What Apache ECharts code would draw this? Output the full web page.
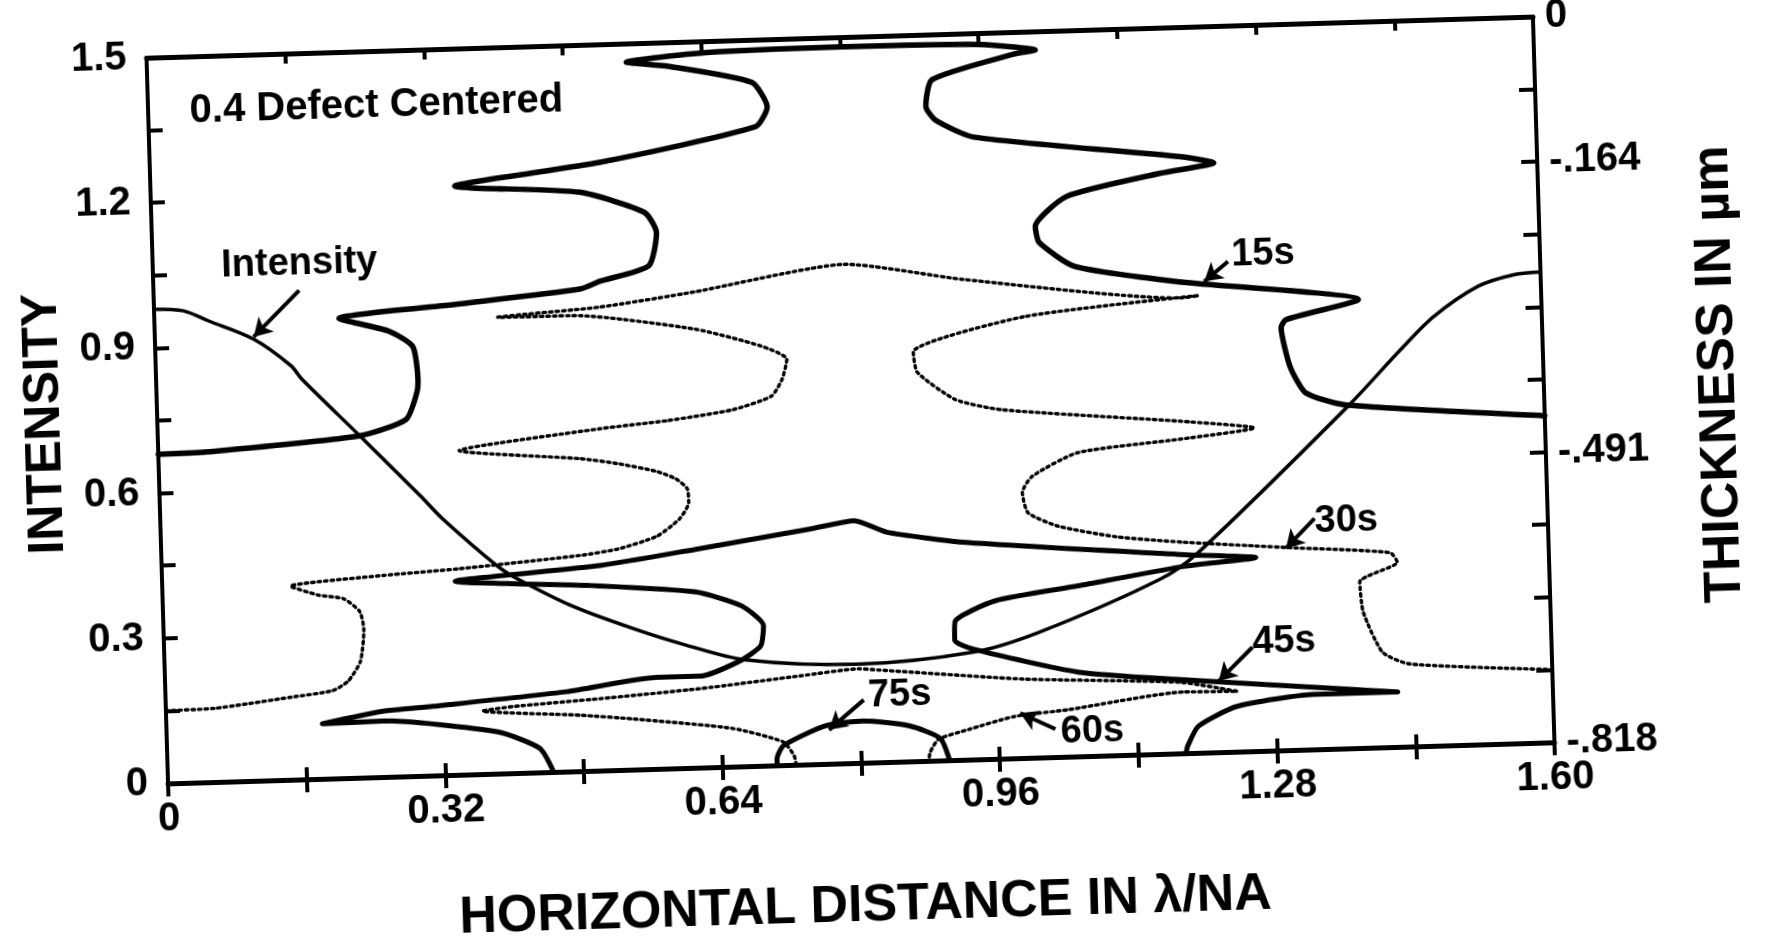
<!DOCTYPE html>
<html><head><meta charset="utf-8">
<script src="https://cdn.jsdelivr.net/npm/echarts@6/dist/echarts.min.js"></script>
<style>
html,body{margin:0;padding:0;background:#fff;overflow:hidden;width:1768px;height:938px;}
#wrap{position:absolute;left:0;top:0;width:1768px;height:938px;transform-origin:850.5px 400.5px;transform:rotate(-1.7deg);}
#chart{width:1768px;height:938px;}
</style></head><body>
<div id="wrap"><div id="chart"></div></div>
<script>
// ---------- DATA ----------
const xTickLabels = ['0','','0.32','','0.64','','0.96','','1.28','','1.60'];
const intensityTickLabels = ['0','','0.3','','0.6','','0.9','','1.2','','1.5'];
const thicknessTickLabels = ['-.818','','','','-.491','','','','-.164','','0'];

// Intensity profile: [horizontal distance (λ/NA), intensity]
const intensity = [[0,0.98],[0.034,0.975],[0.062,0.953],[0.114,0.912],[0.156,0.855],[0.168,0.827],[0.233,0.706],[0.301,0.578],[0.326,0.529],[0.387,0.429],[0.41,0.401],[0.474,0.34],[0.542,0.291],[0.60,0.255],[0.669,0.220],[0.797,0.204],[0.934,0.222],[1.01,0.259],[1.151,0.361],[1.196,0.414],[1.373,0.706],[1.436,0.82],[1.475,0.886],[1.527,0.946],[1.569,0.968],[1.6,0.972]];

// Resist profiles: [horizontal distance (λ/NA), thickness (µm)]
const profile15s = [[0,-0.447],[0.056,-0.446],[0.233,-0.433],[0.287,-0.416],[0.30,-0.387],[0.302,-0.371],[0.297,-0.334],[0.27,-0.316],[0.213,-0.300],[0.35,-0.288],[0.492,-0.275],[0.515,-0.267],[0.572,-0.251],[0.582,-0.214],[0.569,-0.191],[0.495,-0.166],[0.351,-0.155],[0.519,-0.133],[0.70,-0.098],[0.714,-0.076],[0.697,-0.048],[0.601,-0.027],[0.553,-0.021],[0.645,-0.013],[0.80,-0.011],[0.96,-0.013],[1.025,-0.021],[1.0,-0.025],[0.905,-0.051],[0.897,-0.081],[0.908,-0.097],[0.951,-0.117],[1.188,-0.146],[1.227,-0.154],[1.165,-0.164],[1.056,-0.187],[1.019,-0.220],[1.023,-0.238],[1.063,-0.266],[1.184,-0.287],[1.389,-0.313],[1.305,-0.333],[1.299,-0.342],[1.308,-0.386],[1.325,-0.416],[1.37,-0.431],[1.6,-0.450]];

const profile30s = [[0,-0.736],[0.056,-0.735],[0.145,-0.725],[0.193,-0.719],[0.211,-0.709],[0.226,-0.687],[0.231,-0.651],[0.227,-0.631],[0.209,-0.616],[0.18,-0.611],[0.148,-0.600],[0.255,-0.591],[0.343,-0.586],[0.483,-0.575],[0.527,-0.569],[0.572,-0.556],[0.599,-0.537],[0.61,-0.519],[0.609,-0.504],[0.596,-0.492],[0.574,-0.483],[0.53,-0.473],[0.486,-0.466],[0.347,-0.453],[0.51,-0.433],[0.589,-0.426],[0.664,-0.416],[0.709,-0.402],[0.722,-0.383],[0.728,-0.361],[0.698,-0.345],[0.623,-0.324],[0.491,-0.305],[0.396,-0.304],[0.514,-0.296],[0.624,-0.282],[0.797,-0.256],[0.934,-0.277],[1.184,-0.305],[1.205,-0.303],[1.003,-0.321],[0.874,-0.357],[0.878,-0.380],[0.921,-0.412],[0.974,-0.425],[1.18,-0.444],[1.265,-0.454],[1.18,-0.464],[1.06,-0.476],[1.007,-0.501],[0.995,-0.519],[1.001,-0.542],[1.035,-0.558],[1.102,-0.572],[1.176,-0.580],[1.263,-0.587],[1.302,-0.590],[1.417,-0.599],[1.425,-0.610],[1.381,-0.631],[1.384,-0.665],[1.405,-0.711],[1.436,-0.725],[1.6,-0.736]];

const profile45s = [[0.445,-0.818],[0.43,-0.791],[0.382,-0.771],[0.25,-0.755],[0.18,-0.756],[0.25,-0.744],[0.308,-0.740],[0.463,-0.728],[0.567,-0.715],[0.617,-0.715],[0.664,-0.699],[0.688,-0.683],[0.692,-0.660],[0.667,-0.637],[0.615,-0.620],[0.505,-0.610],[0.338,-0.600],[0.506,-0.587],[0.616,-0.572],[0.749,-0.553],[0.80,-0.545],[0.837,-0.559],[0.925,-0.573],[1.175,-0.594],[1.262,-0.600],[1.175,-0.608],[1.056,-0.626],[0.96,-0.640],[0.913,-0.662],[0.912,-0.683],[0.934,-0.694],[1.053,-0.723],[1.171,-0.735],[1.36,-0.751],[1.421,-0.756],[1.324,-0.756],[1.235,-0.767],[1.19,-0.788],[1.177,-0.810],[1.175,-0.818]];

const profile60s = [[0.725,-0.818],[0.723,-0.808],[0.711,-0.792],[0.653,-0.775],[0.539,-0.761],[0.478,-0.755],[0.365,-0.747],[0.40,-0.743],[0.501,-0.737],[0.617,-0.729],[0.733,-0.718],[0.80,-0.712],[0.823,-0.714],[0.989,-0.729],[1.171,-0.738],[1.236,-0.750],[1.174,-0.749],[1.041,-0.765],[0.978,-0.771],[0.925,-0.784],[0.89,-0.794],[0.88,-0.808],[0.878,-0.818]];

const profile75s = [[0.703,-0.818],[0.703,-0.811],[0.711,-0.796],[0.76,-0.775],[0.804,-0.771],[0.857,-0.778],[0.892,-0.793],[0.902,-0.818]];

// ---------- LAYOUT (annotation placement, in axis units) ----------
const notes = [
  {text:'0.4 Defect Centered', at:[0.048,1.386], size:40},
  {text:'Intensity', at:[0.079,1.066], size:38},
  {text:'15s', at:[1.244,1.025], size:38},
  {text:'30s', at:[1.331,0.471], size:38},
  {text:'45s', at:[1.255,0.225], size:38},
  {text:'60s', at:[1.031,0.051], size:38},
  {text:'75s', at:[0.81,0.138], size:38}
];
const arrows = [
  [[0.168,1.01],[0.114,0.917]],
  [[1.24,1.013],[1.212,0.973]],
  [[1.331,0.477],[1.297,0.417]],
  [[1.255,0.215],[1.215,0.147]],
  [[1.025,0.058],[0.985,0.093]],
  [[0.805,0.13],[0.764,0.07]]
];

const FONT = "'Liberation Sans', Arial, Helvetica, sans-serif";
const K = '#000';
const chart = echarts.init(document.getElementById('chart'), null, {renderer:'canvas'});

function profile(name, data, width, dotted) {
  return {
    name, type:'line', xAxisIndex:0, yAxisIndex:1, data,
    showSymbol:false, symbol:'none', smooth:0.2, animation:false,
    lineStyle: dotted ? {color:K, width:3.4, type:[2.5,4], cap:'round'} : {color:K, width:width, cap:'round', join:'round'},
    z: 3
  };
}

const option = {
  animation:false,
  backgroundColor:'#fff',
  grid:{left:157, top:37, width:1387, height:727, containLabel:false},
  xAxis:[
    {type:'value', min:0, max:1.6, interval:0.16, position:'bottom',
     axisLine:{show:true, onZero:false, lineStyle:{color:K, width:5}},
     axisTick:{show:true, inside:false, length:13, lineStyle:{color:K, width:4}},
     axisLabel:{color:K, fontSize:40, fontWeight:'bold', fontFamily:FONT, margin:16,
       formatter:(v)=>xTickLabels[Math.round(v/0.16)] || ''},
     splitLine:{show:false},
     name:'HORIZONTAL DISTANCE IN λ/NA', nameLocation:'middle', nameGap:118,
     nameTextStyle:{color:K, fontSize:52, fontWeight:'bold', fontFamily:FONT}},
    {type:'value', min:0, max:1.6, interval:0.16, position:'top',
     axisLine:{show:true, onZero:false, lineStyle:{color:K, width:5}},
     axisTick:{show:true, inside:true, length:10, lineStyle:{color:K, width:4}},
     axisLabel:{show:false}, splitLine:{show:false}},
    {type:'value', min:0, max:1.6, interval:0.16, position:'bottom',
     axisLine:{show:false, onZero:false},
     axisTick:{show:true, inside:true, length:12, lineStyle:{color:K, width:4}},
     axisLabel:{show:false}, splitLine:{show:false}}
  ],
  yAxis:[
    {type:'value', min:0, max:1.5, interval:0.15, position:'left',
     axisLine:{show:true, onZero:false, lineStyle:{color:K, width:4}},
     axisTick:{show:true, inside:true, length:14, lineStyle:{color:K, width:4}},
     axisLabel:{color:K, fontSize:40, fontWeight:'bold', fontFamily:FONT, margin:20,
       formatter:(v)=>intensityTickLabels[Math.round(v/0.15)] || ''},
     splitLine:{show:false},
     name:'INTENSITY', nameLocation:'middle', nameGap:85, nameRotate:90,
     nameTextStyle:{color:K, fontSize:50, fontWeight:'bold', fontFamily:FONT}},
    {type:'value', min:-0.818, max:0, interval:0.0818, position:'right',
     axisLine:{show:true, onZero:false, lineStyle:{color:K, width:4}},
     axisTick:{show:true, inside:true, length:16, lineStyle:{color:K, width:4}},
     axisLabel:{color:K, fontSize:40, fontWeight:'bold', fontFamily:FONT, margin:12,
       formatter:(v)=>thicknessTickLabels[Math.round((v+0.818)/0.0818)] || ''},
     splitLine:{show:false},
     name:'THICKNESS IN µm', nameLocation:'middle', nameGap:150, nameRotate:90,
     nameTextStyle:{color:K, fontSize:52, fontWeight:'bold', fontFamily:FONT}}
  ],
  series:[
    {name:'Intensity', type:'line', xAxisIndex:0, yAxisIndex:0, data:intensity,
     showSymbol:false, symbol:'none', smooth:0.3,
     lineStyle:{color:K, width:3.5}, z:3},
    profile('15s', profile15s, 5.5, false),
    profile('30s', profile30s, 3, true),
    profile('45s', profile45s, 5, false),
    profile('60s', profile60s, 3, true),
    profile('75s', profile75s, 5, false),
    {name:'notes', type:'scatter', xAxisIndex:0, yAxisIndex:0,
     symbolSize:0, silent:true,
     itemStyle:{color:K, opacity:1},
     emphasis:{disabled:true},
     data: notes.map(n => ({value:n.at, name:n.text,
       label:{show:true, position:'right', distance:0, formatter:n.text, opacity:1,
         color:K, fontSize:n.size, fontWeight:'bold', fontFamily:FONT}})),
     markLine:{silent:true, symbol:['none','arrow'], symbolSize:[16,18], animation:false,
       lineStyle:{color:K, width:4, type:'solid', opacity:1}, label:{show:false},
       data: arrows.map(a => [{coord:a[0]},{coord:a[1]}])},
     z:5}
  ]
};
chart.setOption(option);
</script>
</body></html>
